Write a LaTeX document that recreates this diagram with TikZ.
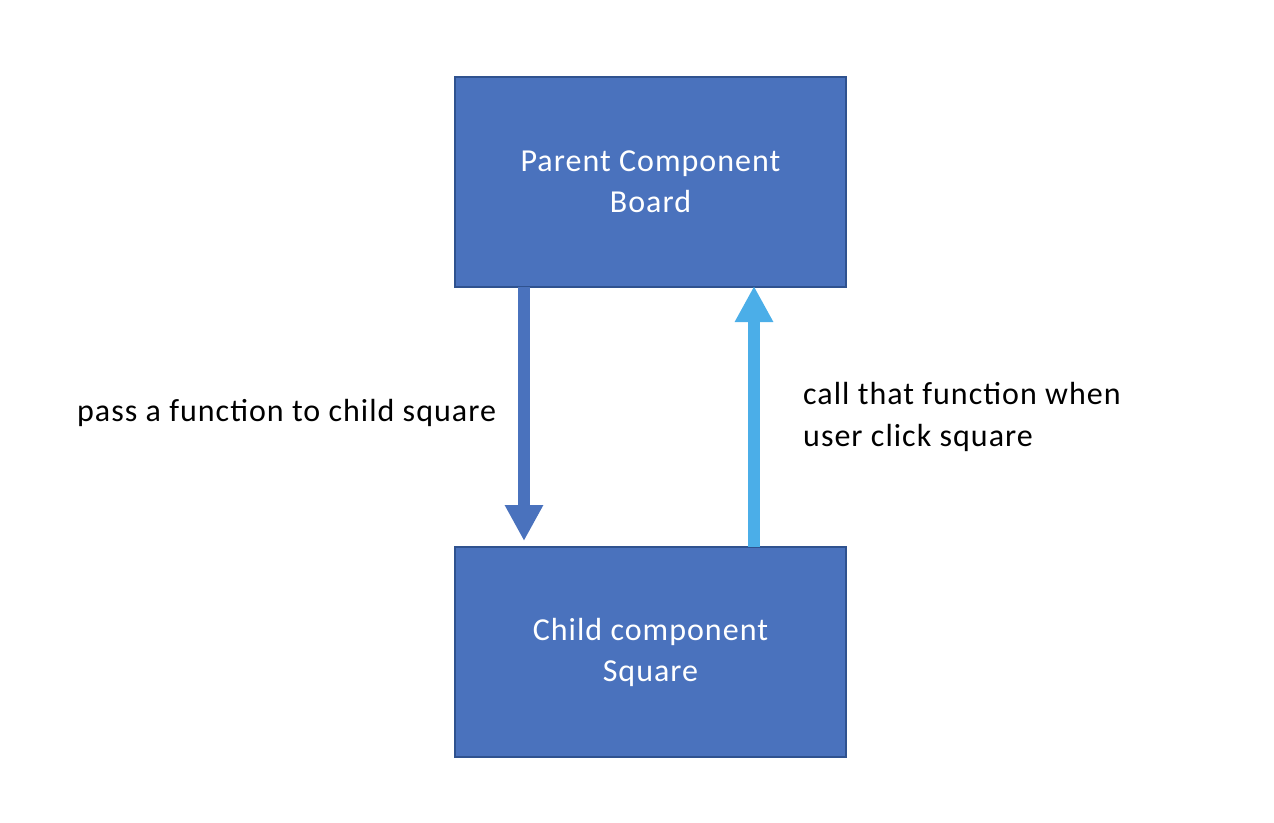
\documentclass[tikz,border=0pt]{standalone}
\usepackage{fontspec}
\setmainfont[LetterSpace=3.2]{Carlito}
\usetikzlibrary{arrows.meta}
\definecolor{boxfill}{HTML}{4A72BD}
\definecolor{boxline}{HTML}{2F528F}
\definecolor{darkarrow}{HTML}{4A72BD}
\definecolor{lightarrow}{HTML}{4BAEE8}
\begin{document}
\begin{tikzpicture}[x=1pt,y=-1pt,
  comp/.style={draw=boxline,line width=1.5pt,fill=boxfill,text=white,
    minimum width=391pt,minimum height=210pt,align=center,inner sep=0pt,
    font=\fontsize{32}{41}\selectfont},
  lbl/.style={align=left,anchor=west,inner sep=0pt,font=\fontsize{32}{42}\selectfont},
  fat/.style={line width=12pt,-{Triangle[width=36pt,length=36pt]}}]
\useasboundingbox (0,0) rectangle (1274,822);
\node[comp] (parent) at (650.5,182) {Parent Component\\Board};
\node[comp] (child) at (650.5,652) {Child component\\Square};
\coordinate (d1) at (524,287);
\coordinate (d2) at (524,541);
\coordinate (u1) at (754,547);
\coordinate (u2) at (754,286);
\draw[fat,darkarrow] (d1) -- (d2);
\draw[fat,lightarrow] (u1) -- (u2);
\node[lbl] (l1) at (77,413) {pass a function to child square};
\node[lbl] (l2) at (803,417) {call that function when\\user click square};
\end{tikzpicture}
\end{document}
